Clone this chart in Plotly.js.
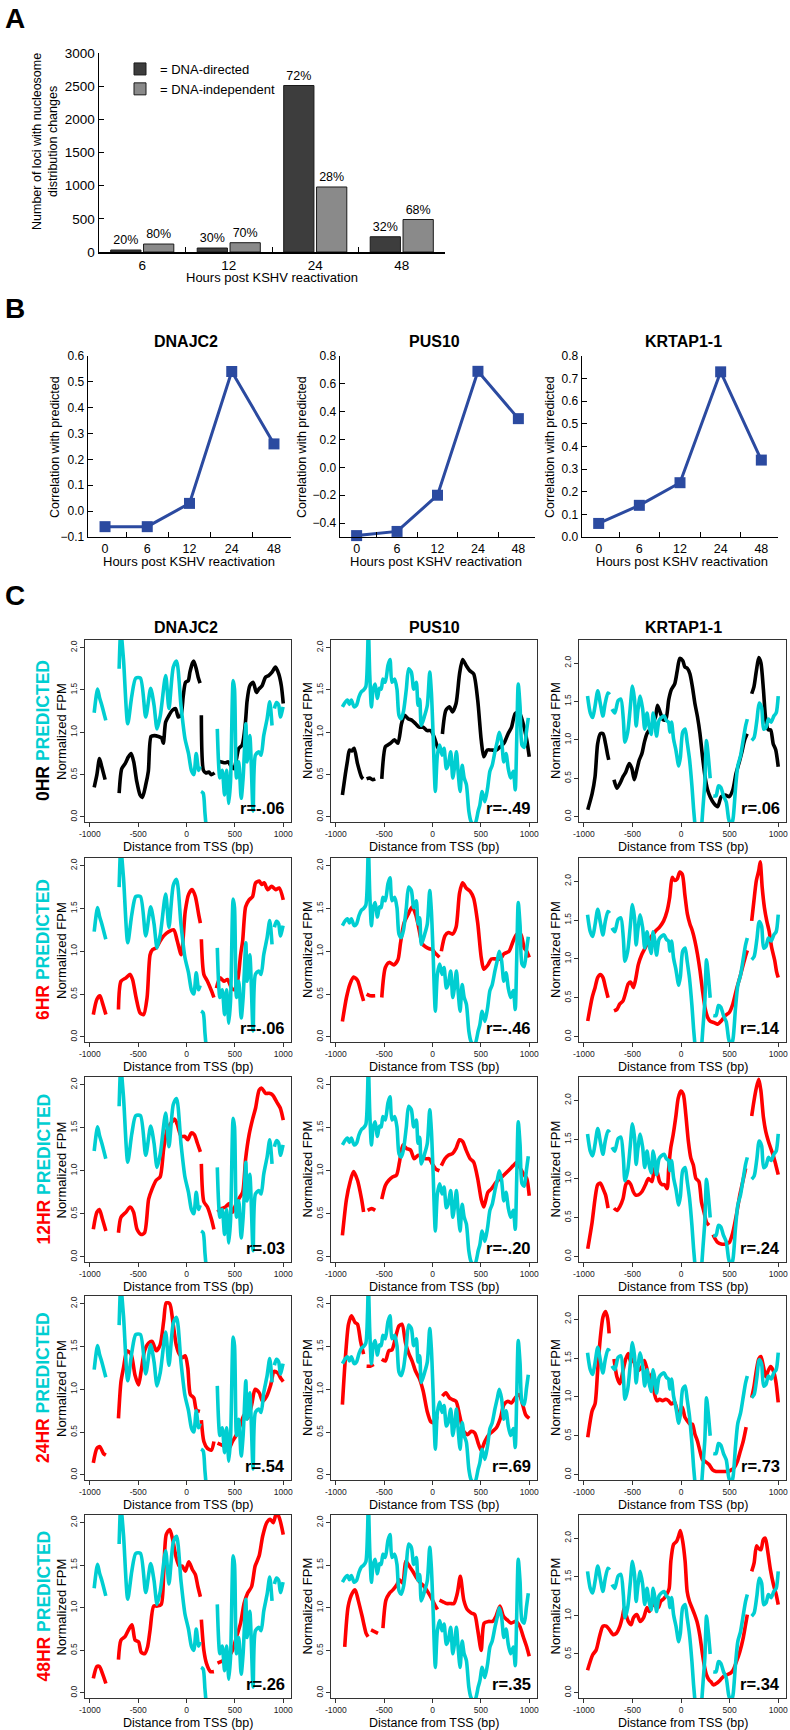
<!DOCTYPE html>
<html><head><meta charset="utf-8">
<script src="https://cdn.plot.ly/plotly-3.0.1.min.js"></script>
<style>body{margin:0;background:#fff}#chart{width:790px;height:1730px}</style>
</head><body><div id="chart"></div>
<script>
// ================= DATA =================
// Panel A
const hoursA = ['6', '12', '24', '48'];
const dnaDirected = [30, 60, 2510, 230];
const dnaIndependent = [120, 140, 980, 490];
const pctDirected = ['20%', '30%', '72%', '32%'];
const pctIndependent = ['80%', '70%', '28%', '68%'];

// Panel B
const hoursB = ['0', '6', '12', '24', '48'];
const genes = ['DNAJC2', 'PUS10', 'KRTAP1-1'];
const corrDNAJC2 = [-0.06, -0.06, 0.03, 0.54, 0.26];
const corrPUS10 = [-0.49, -0.46, -0.20, 0.69, 0.35];
const corrKRTAP = [0.06, 0.14, 0.24, 0.73, 0.34];

// Panel C  (each trace = list of segments of [bp, FPM] points)
const timepoints = ['0HR', '6HR', '12HR', '24HR', '48HR'];
const rLabels = [
  ['r=-.06', 'r=-.49', 'r=.06'],
  ['r=-.06', 'r=-.46', 'r=.14'],
  ['r=.03', 'r=-.20', 'r=.24'],
  ['r=.54', 'r=.69', 'r=.73'],
  ['r=.26', 'r=.35', 'r=.34']
];
const xTickVals = [-1000, -500, 0, 500, 1000];
const xTickText = ['-1000', '-500', '0', '500', '1000'];
const yTickVals = [0, 0.5, 1, 1.5, 2];
const yTickText = ['0.0', '0.5', '1.0', '1.5', '2.0'];

const cyanDNAJC2 = [
  [[-955,1.23],[-920,1.51],[-900,1.41],[-876,1.32],[-835,1.14]],
  [[-697,1.75],[-680,2.2],[-652,1.86],[-608,1.10],[-566,1.43],[-525,1.64],[-477,1.64],[-422,1.18],[-371,1.52],[-336,1.32],[-305,1.04],[-271,1.20],[-216,1.67],[-182,1.28],[-137,1.77],[-103,1.84],[-58,1.32],[-17,0.93],[20,0.75],[50,0.55],[75,0.50],[100,0.75],[125,0.55],[140,0.60]],
  [[150,0.30],[172,0.28],[190,0.05],[205,-0.15]],
  [[318,1.04],[345,0.46],[369,0.55],[393,0.26],[415,0.55],[437,0.16],[455,0.42],[482,1.61],[496,1.51],[516,0.46],[540,0.65],[565,0.22],[585,0.46],[613,1.10],[626,0.65],[654,0.96],[688,0.07],[712,0.73],[747,0.77],[771,0.73],[798,0.96],[833,1.16],[860,1.36],[884,1.08]],
  [[908,1.28],[930,1.35],[953,1.32],[970,1.18],[998,1.30]]
];
const cyanPUS10 = [
  [[-932,1.30],[-900,1.36],[-880,1.38],[-860,1.33],[-840,1.38],[-810,1.30],[-786,1.32],[-760,1.42],[-735,1.48],[-713,1.50],[-690,1.54],[-672,1.90],[-664,2.25],[-650,1.70],[-632,1.30],[-615,1.50],[-593,1.57],[-570,1.40],[-548,1.52],[-531,1.51],[-513,1.63],[-489,1.59],[-461,1.79],[-440,1.86],[-420,1.59],[-392,1.63],[-368,1.51],[-347,1.20],[-323,1.16],[-300,1.25],[-271,1.51],[-247,1.75],[-219,1.71],[-195,1.51],[-168,1.59],[-150,1.32],[-133,1.39],[-116,1.08],[-81,1.20],[-54,1.32],[-29,1.71],[-12,1.47],[5,1.0],[29,0.30],[50,0.73],[74,0.85],[98,0.73],[119,0.81],[143,0.57],[161,0.61],[188,0.77],[209,0.46],[230,0.61],[247,0.77],[264,0.54],[285,0.30],[306,0.61],[327,0.46],[350,0.38],[375,0.07],[396,-0.05],[420,-0.09],[444,-0.07],[472,0.07],[489,0.14],[513,0.30],[541,0.18],[569,0.34],[593,0.54],[617,0.61],[645,0.77],[669,0.89],[690,1.0],[714,0.89],[737,0.65],[760,0.75],[783,0.57],[807,0.46],[835,0.54],[855,0.32],[870,0.90],[886,1.57],[905,1.30],[925,0.85],[948,0.82],[970,1.0],[990,1.17]]
];
const cyanKRTAP = [
  [[-962,1.57],[-934,1.35],[-909,1.29],[-885,1.44],[-857,1.64],[-829,1.46],[-804,1.31],[-780,1.48],[-752,1.61],[-734,1.59]],
  [[-710,1.40],[-682,1.35],[-647,1.51],[-619,1.53],[-594,1.27],[-577,0.97],[-549,1.10],[-524,1.40],[-500,1.70],[-479,1.53],[-462,1.18],[-444,1.38],[-420,1.57],[-395,1.40],[-374,1.14],[-350,1.35],[-332,1.20],[-308,1.07],[-287,1.35],[-269,1.23],[-252,1.05],[-227,1.25],[-203,1.29],[-175,1.31],[-150,1.25],[-129,1.23],[-115,1.10],[-98,1.23],[-77,1.01],[-52,0.86],[-24,0.66],[-7,0.77],[17,1.10],[42,1.14],[63,0.97],[87,0.75],[112,0.40],[129,0.10],[147,-0.16]],
  [[210,-0.16],[227,0.14],[245,0.45],[262,0.99],[280,0.79],[300,0.50]],
  [[332,0.27],[360,0.27],[385,0.40],[409,0.38],[437,0.27],[465,0.19],[490,-0.03],[514,-0.12],[535,-0.03],[560,0.36],[584,0.66],[612,0.79],[636,0.97],[664,1.18],[682,1.27]],
  [[727,0.99],[752,1.03],[780,1.25],[804,1.48],[829,1.42],[850,1.14],[874,1.16],[899,1.27],[927,1.23],[955,1.31],[979,1.35],[1000,1.57]]
];

// Observed: DNAJC2
const obsDNAJC2_0 = [
  [[-955,0.35],[-927,0.50],[-900,0.69],[-876,0.59],[-842,0.44]],
  [[-697,0.28],[-670,0.57],[-635,0.63],[-601,0.71],[-573,0.75],[-546,0.65],[-515,0.42],[-481,0.26],[-457,0.23],[-422,0.38],[-395,0.54],[-367,0.95],[-333,0.96],[-291,0.95],[-257,0.93],[-240,0.87],[-216,1.12],[-181,1.20],[-147,1.26],[-113,1.28],[-86,1.18],[-58,1.20],[-34,1.43],[-10,1.59],[18,1.61],[35,1.71],[62,1.82],[75,1.84],[100,1.75],[120,1.65],[140,1.58]],
  [[153,1.20],[175,0.55],[200,0.52],[230,0.53],[257,0.50],[290,0.52]],
  [[320,0.66],[360,0.65],[400,0.64],[430,0.65],[460,0.60],[490,0.57],[515,0.68],[540,0.81],[575,0.85],[609,1.12],[626,1.37],[654,1.55],[688,1.59],[723,1.47],[747,1.51],[781,1.55],[816,1.65],[850,1.67],[884,1.71],[919,1.77],[953,1.69],[980,1.55],[1000,1.34]]
];
const obsDNAJC2_6 = [
  [[-964,0.26],[-927,0.44],[-896,0.48],[-865,0.38],[-834,0.26]],
  [[-704,0.32],[-678,0.65],[-626,0.69],[-584,0.73],[-558,0.67],[-522,0.46],[-481,0.28],[-444,0.26],[-408,0.46],[-377,0.96],[-351,1.02],[-314,1.04],[-273,1.12],[-236,1.18],[-184,1.23],[-132,1.25],[-96,1.12],[-55,0.96],[-13,1.47],[23,1.67],[60,1.72],[91,1.64],[127,1.42],[143,1.33]],
  [[153,1.14],[179,0.73],[216,0.65],[257,0.54],[283,0.46]],
  [[309,0.57],[346,0.69],[387,0.65],[423,0.67],[465,0.57],[491,0.55],[527,0.65],[559,0.96],[580,1.12],[611,1.52],[647,1.60],[683,1.64],[714,1.80],[751,1.82],[777,1.78],[803,1.80],[839,1.72],[880,1.76],[922,1.72],[958,1.74],[1000,1.60]]
];
const obsDNAJC2_12 = [
  [[-964,0.32],[-927,0.52],[-901,0.55],[-870,0.44],[-834,0.30]],
  [[-704,0.28],[-678,0.46],[-626,0.52],[-584,0.58],[-548,0.52],[-512,0.32],[-470,0.26],[-434,0.28],[-392,0.67],[-356,0.79],[-314,0.89],[-273,0.93],[-236,1.26],[-200,1.48],[-158,1.56],[-122,1.60],[-96,1.54],[-55,1.40],[-18,1.40],[13,1.36],[49,1.44],[80,1.42],[112,1.32],[143,1.22]],
  [[153,1.08],[179,0.64],[216,0.58],[257,0.44],[283,0.32]],
  [[320,0.52],[361,0.56],[403,0.58],[439,0.62],[475,0.52],[506,0.60],[543,0.68],[580,0.75],[611,1.14],[647,1.42],[683,1.60],[714,1.73],[751,1.94],[777,1.96],[818,1.90],[855,1.90],[891,1.88],[932,1.80],[969,1.73],[1000,1.59]]
];
const obsDNAJC2_24 = [
  [[-964,0.14],[-927,0.31],[-896,0.33],[-860,0.25],[-834,0.23]],
  [[-704,0.66],[-678,1.09],[-652,1.25],[-616,1.45],[-574,1.41],[-532,1.16],[-496,1.05],[-470,1.21],[-434,1.45],[-392,1.54],[-356,1.56],[-314,1.45],[-273,1.52],[-236,1.80],[-210,2.01],[-174,2.0],[-143,1.80],[-107,1.52],[-75,1.41],[-44,1.37],[-13,1.39],[13,1.25],[39,0.94],[75,0.90],[101,0.76],[138,0.74]],
  [[153,0.64],[179,0.39],[216,0.31],[257,0.29],[283,0.39]],
  [[320,0.37],[361,0.35],[403,0.33],[439,0.31],[475,0.39],[517,0.47],[559,0.59],[595,0.70],[631,0.66],[673,0.82],[709,1.0],[751,0.96],[787,0.86],[829,0.92],[870,1.05],[906,1.21],[943,1.19],[974,1.13],[1000,1.09]]
];
const obsDNAJC2_48 = [
  [[-964,0.17],[-927,0.31],[-901,0.31],[-870,0.23],[-834,0.11]],
  [[-704,0.39],[-678,0.62],[-636,0.66],[-600,0.74],[-564,0.80],[-532,0.62],[-496,0.60],[-470,0.48],[-434,0.46],[-403,0.54],[-377,0.74],[-340,1.02],[-304,1.02],[-262,1.04],[-236,1.41],[-210,1.86],[-174,1.92],[-143,1.80],[-107,1.59],[-75,1.49],[-44,1.49],[-13,1.43],[23,1.54],[60,1.45],[91,1.39],[117,1.25],[143,1.13]],
  [[153,0.86],[179,0.50],[205,0.35],[247,0.25],[283,0.25]],
  [[320,0.35],[361,0.37],[403,0.39],[439,0.43],[475,0.50],[517,0.66],[559,0.82],[595,1.05],[631,1.17],[673,1.25],[709,1.49],[751,1.61],[787,1.84],[829,2.0],[865,2.04],[896,2.0],[932,2.12],[964,2.04],[1000,1.86]]
];

// Observed: PUS10
const obsPUS10_0 = [
  [[-932,0.26],[-901,0.51],[-880,0.66],[-859,0.79],[-835,0.78],[-811,0.81],[-776,0.63],[-734,0.47],[-718,0.45]],
  [[-682,0.45],[-650,0.46],[-620,0.44],[-593,0.45]],
  [[-525,0.45],[-488,0.83],[-462,0.85],[-436,0.87],[-394,0.91],[-358,0.87],[-321,1.10],[-290,1.20],[-253,1.16],[-211,1.14],[-175,1.10],[-138,1.06],[-97,1.06],[-55,1.02],[-18,1.02],[18,0.94],[50,0.83],[71,0.79]],
  [[102,0.98],[138,1.26],[175,1.30],[206,1.24],[243,1.34],[279,1.69],[311,1.86],[347,1.79],[383,1.73],[425,1.69],[467,1.38],[503,0.91],[530,0.71],[566,0.79],[608,0.79],[660,0.79],[701,0.83],[738,0.87],[780,0.98],[817,1.06],[854,1.22],[895,1.24],[937,1.10],[974,0.91],[1000,0.71]]
];
const obsPUS10_6 = [
  [[-932,0.18],[-890,0.46],[-853,0.62],[-817,0.70],[-776,0.66],[-734,0.50],[-713,0.42]],
  [[-682,0.50],[-645,0.48],[-593,0.48]],
  [[-525,0.46],[-488,0.81],[-447,0.87],[-400,0.84],[-358,0.90],[-332,1.09],[-295,1.33],[-253,1.43],[-211,1.52],[-175,1.43],[-149,1.31],[-107,1.09],[-70,1.05],[-34,1.03],[-3,1.02],[34,0.97],[71,0.93]],
  [[91,1.0],[128,1.18],[164,1.22],[206,1.20],[243,1.28],[279,1.68],[311,1.80],[347,1.74],[389,1.70],[425,1.62],[467,1.33],[503,0.93],[530,0.79],[572,0.84],[608,0.91],[660,0.91],[701,0.91],[738,0.97],[791,1.0],[834,1.12],[870,1.20],[912,1.20],[948,1.04],[974,1.0],[1000,0.93]]
];
const obsPUS10_12 = [
  [[-932,0.25],[-890,0.67],[-853,0.87],[-817,0.99],[-776,0.89],[-734,0.67],[-713,0.52]],
  [[-671,0.54],[-629,0.56],[-593,0.54]],
  [[-525,0.67],[-488,0.83],[-452,0.89],[-410,0.93],[-373,0.95],[-342,1.10],[-306,1.30],[-269,1.26],[-227,1.24],[-190,1.14],[-149,1.18],[-107,1.16],[-70,1.14],[-34,1.14],[-3,1.08],[34,1.02],[71,1.0]],
  [[91,1.06],[128,1.14],[164,1.18],[206,1.20],[243,1.26],[279,1.36],[311,1.34],[347,1.24],[389,1.14],[425,1.10],[467,0.91],[503,0.67],[530,0.58],[572,0.75],[608,0.79],[660,0.87],[701,0.91],[738,0.95],[791,1.01],[834,1.06],[870,1.10],[912,1.02],[948,0.95],[974,0.91],[1000,0.71]]
];
const obsPUS10_24 = [
  [[-932,0.82],[-906,1.29],[-869,1.76],[-838,1.86],[-801,1.78],[-776,1.76],[-744,1.56],[-713,1.41]],
  [[-682,1.27],[-645,1.27],[-608,1.29]],
  [[-525,1.35],[-488,1.33],[-452,1.45],[-420,1.46],[-384,1.60],[-347,1.74],[-316,1.76],[-279,1.54],[-243,1.41],[-211,1.33],[-175,1.21],[-138,1.13],[-97,0.98],[-55,0.74],[-18,0.62],[8,0.61],[39,0.66],[60,0.66]],
  [[102,0.92],[138,0.96],[175,0.90],[206,0.88],[243,0.86],[279,0.70],[321,0.51],[363,0.47],[399,0.51],[436,0.49],[478,0.35],[503,0.29],[540,0.39],[582,0.47],[624,0.51],[660,0.55],[701,0.66],[738,0.82],[780,0.86],[817,0.84],[854,0.90],[895,0.94],[932,0.82],[964,0.70],[1000,0.66]]
];
const obsPUS10_48 = [
  [[-908,0.54],[-872,1.02],[-831,1.17],[-800,1.21],[-769,1.09],[-728,0.90],[-687,0.70],[-667,0.66]],
  [[-636,0.74],[-600,0.72],[-564,0.70]],
  [[-513,0.76],[-482,1.09],[-446,1.17],[-410,1.21],[-369,1.27],[-344,1.33],[-308,1.29],[-277,1.55],[-241,1.49],[-205,1.43],[-164,1.35],[-123,1.29],[-87,1.25],[-51,1.19],[-10,1.11],[21,1.04],[51,0.98]],
  [[72,1.09],[108,1.07],[144,1.05],[185,1.05],[221,1.05],[256,1.17],[287,1.37],[323,1.09],[359,0.98],[400,0.94],[436,0.92],[467,0.74],[503,0.50],[533,0.82],[579,0.84],[621,0.84],[656,0.90],[697,1.02],[733,0.90],[769,0.86],[810,0.82],[862,0.84],[903,0.78],[938,0.66],[974,0.54],[1000,0.43]]
];

// Observed: KRTAP1-1
const obsKRTAP_0 = [
  [[-960,0.09],[-915,0.30],[-885,0.52],[-858,0.95],[-830,1.08],[-803,1.08],[-777,0.95],[-755,0.80],[-744,0.74]],
  [[-690,0.48],[-660,0.37],[-630,0.43],[-597,0.52],[-569,0.58],[-533,0.69],[-507,0.63],[-481,0.48],[-455,0.61],[-429,0.74],[-403,0.82],[-377,0.97],[-351,1.08],[-325,1.13],[-294,1.21],[-262,1.30],[-242,1.45],[-210,1.34],[-184,1.26],[-158,1.26],[-127,1.52],[-101,1.65],[-65,1.73],[-39,1.90],[-13,2.06],[18,2.03],[39,1.95],[65,1.93],[91,1.86],[117,1.69],[143,1.47],[169,1.30],[195,1.08],[221,0.78],[247,0.52],[273,0.35],[299,0.26],[340,0.17],[377,0.13],[413,0.26],[455,0.28],[496,0.26],[533,0.35],[565,0.56],[595,0.69],[622,0.82],[655,1.0],[680,1.08]],
  [[727,1.60],[750,1.69],[775,1.90],[800,2.07],[822,2.0],[848,1.65],[872,1.26],[898,1.13],[922,1.13],[948,0.95],[974,0.87],[1000,0.65]]
];
const obsKRTAP_6 = [
  [[-960,0.20],[-915,0.50],[-885,0.63],[-858,0.76],[-830,0.80],[-803,0.76],[-777,0.63],[-751,0.50]],
  [[-690,0.33],[-660,0.35],[-630,0.42],[-597,0.46],[-569,0.57],[-543,0.68],[-517,0.70],[-491,0.63],[-470,0.72],[-439,0.93],[-403,1.06],[-366,1.15],[-335,1.23],[-299,1.30],[-262,1.36],[-221,1.41],[-179,1.49],[-143,1.62],[-117,1.79],[-91,2.05],[-65,2.01],[-39,2.03],[-13,2.12],[13,2.09],[39,1.83],[65,1.58],[91,1.45],[117,1.36],[143,1.23],[169,1.06],[195,0.85],[221,0.59],[247,0.37],[273,0.25],[299,0.20],[340,0.18],[377,0.16],[413,0.20],[455,0.27],[496,0.31],[533,0.42],[575,0.63],[605,0.76],[632,0.89],[660,1.02],[682,1.11]],
  [[727,1.49],[750,1.75],[775,2.01],[800,2.14],[815,2.25],[835,1.92],[858,1.66],[882,1.49],[906,1.36],[932,1.15],[964,0.98],[984,0.83],[1000,0.76]]
];
const obsKRTAP_12 = [
  [[-960,0.10],[-915,0.44],[-885,0.74],[-858,0.92],[-830,0.94],[-803,0.87],[-777,0.79],[-751,0.62]],
  [[-690,0.62],[-660,0.59],[-630,0.64],[-597,0.74],[-569,0.92],[-543,0.96],[-517,0.92],[-491,0.83],[-470,0.79],[-439,0.79],[-403,0.83],[-366,0.92],[-335,1.0],[-299,0.96],[-273,1.13],[-247,1.09],[-221,0.96],[-195,0.92],[-169,0.92],[-143,0.87],[-127,1.13],[-106,1.39],[-81,1.56],[-55,1.78],[-29,2.03],[-3,2.12],[23,2.08],[49,1.82],[75,1.48],[101,1.26],[127,1.17],[153,1.0],[184,0.96],[210,0.70],[236,0.57],[262,0.44],[288,0.40]],
  [[330,0.28],[340,0.25],[377,0.18],[413,0.16],[455,0.16],[496,0.18],[533,0.31],[575,0.57],[605,0.79],[635,0.96],[665,1.13]],
  [[727,1.80],[750,1.99],[775,2.16],[800,2.27],[822,2.12],[848,1.78],[872,1.60],[898,1.48],[922,1.39],[948,1.30],[974,1.18],[1000,1.05]]
];
const obsKRTAP_24 = [
  [[-960,0.48],[-915,0.82],[-885,0.91],[-858,1.34],[-830,1.77],[-803,2.03],[-777,2.10],[-755,2.01],[-740,1.82]],
  [[-690,1.49],[-660,1.26],[-630,1.17],[-597,1.34],[-569,1.49],[-543,1.56],[-517,1.45],[-491,1.49],[-470,1.39],[-439,1.34],[-403,1.39],[-377,1.47],[-351,1.36],[-325,1.21],[-299,1.30],[-273,1.04],[-247,0.95],[-221,0.97],[-190,0.95],[-158,0.97],[-127,0.95],[-101,0.91],[-65,0.93],[-39,0.82],[-13,0.78],[13,0.87],[39,0.74],[65,0.69],[91,0.65],[117,0.65],[143,0.52],[169,0.43],[195,0.30],[221,0.19],[247,0.17],[288,0.13],[325,0.06],[361,0.04],[403,0.04],[444,0.04],[481,0.04],[517,0.06],[548,0.09],[580,0.17],[610,0.30],[640,0.43],[670,0.61]],
  [[727,0.99],[750,1.13],[775,1.34],[800,1.49],[822,1.52],[848,1.39],[872,1.26],[898,1.34],[922,1.39],[948,1.34],[974,1.21],[1000,0.93]]
];
const obsKRTAP_48 = [
  [[-962,0.29],[-909,0.49],[-874,0.55],[-840,0.72],[-804,0.86],[-769,0.86],[-734,0.81],[-699,0.75],[-664,0.77],[-629,0.86],[-605,0.97],[-584,1.10],[-566,1.01],[-542,0.92],[-514,0.88],[-490,0.97],[-455,1.01],[-420,0.92],[-385,0.97],[-350,1.10],[-325,1.05],[-297,1.14],[-265,1.12],[-234,1.10],[-210,1.18],[-175,1.22],[-140,1.29],[-122,1.35],[-105,1.70],[-77,1.92],[-45,1.96],[-24,2.03],[-7,2.10],[17,1.96],[42,1.70],[63,1.31],[87,1.18],[112,1.10],[140,1.01],[164,0.92],[192,0.75],[217,0.53],[238,0.36],[262,0.23],[290,0.16],[308,0.14],[332,0.10],[367,0.12],[402,0.16],[437,0.21],[472,0.23],[507,0.25],[535,0.29],[570,0.40],[605,0.53],[640,0.71],[664,0.88],[682,1.01]],
  [[727,1.57],[752,1.68],[776,1.90],[797,1.87],[822,1.85],[846,1.98],[867,2.0],[892,1.83],[920,1.59],[951,1.40],[979,1.27],[1000,1.14]]
];

// ================= BUILD =================
const W = 790, H = 1730;
const px = v => v / W, py = v => 1 - v / H;
const F = 'Liberation Sans, Arial, sans-serif';
const CYAN = '#00CED1', RED = '#ff0000', BLUE = '#2B4AA0';

function flatten(segs) {
  const x = [], y = [];
  segs.forEach((s, i) => {
    if (i > 0) { x.push(null); y.push(null); }
    s.forEach(p => { x.push(p[0]); y.push(p[1]); });
  });
  return {x, y};
}

const traces = [];
const layout = {
  width: W, height: H, margin: {l: 0, r: 0, t: 0, b: 0},
  paper_bgcolor: '#fff', plot_bgcolor: '#fff', hovermode: false,
  font: {family: F, color: '#000'},
  barmode: 'group', bargap: 0.24, bargroupgap: 0.08,
  showlegend: true,
  legend: {x: px(120), y: py(54), xanchor: 'left', yanchor: 'top', font: {size: 13, family: F},
           bgcolor: 'rgba(0,0,0,0)', itemwidth: 30, tracegroupgap: 0},
  annotations: [], shapes: []
};
const ann = (o) => layout.annotations.push(Object.assign({xref: 'paper', yref: 'paper', showarrow: false, xanchor: 'center', yanchor: 'middle'}, o));

// ---------- Panel A ----------
traces.push({type: 'bar', x: hoursA, y: dnaDirected, name: '= DNA-directed', xaxis: 'x', yaxis: 'y',
  marker: {color: '#3d3d3d', line: {color: '#1a1a1a', width: 1}},
  text: pctDirected, textposition: 'outside', cliponaxis: false, textfont: {size: 12.5, color: '#000', family: F}});
traces.push({type: 'bar', x: hoursA, y: dnaIndependent, name: '= DNA-independent', xaxis: 'x', yaxis: 'y',
  marker: {color: '#8a8a8a', line: {color: '#1a1a1a', width: 1}},
  text: pctIndependent, textposition: 'outside', cliponaxis: false, textfont: {size: 12.5, color: '#000', family: F}});
layout.xaxis = {domain: [px(99), px(445)], anchor: 'y', type: 'category', tickson: 'boundaries',
  ticks: 'inside', ticklen: 5, tickcolor: '#000', showline: true, linecolor: '#000', linewidth: 1.5,
  tickfont: {size: 13.5, family: F}, showgrid: false, zeroline: false};
layout.yaxis = {domain: [py(252), py(53)], anchor: 'x', range: [0, 3000], dtick: 500, tick0: 0,
  ticks: 'inside', ticklen: 5, tickcolor: '#000', showline: true, linecolor: '#000', linewidth: 1.5,
  tickfont: {size: 13.5, family: F}, showgrid: false, zeroline: false};
ann({text: '<b>A</b>', x: px(15), y: py(19), font: {size: 28, family: F}});
ann({text: 'Number of loci with nucleosome<br>distribution changes', x: px(45), y: py(142), textangle: -90, font: {size: 12.5, family: F}});
ann({text: 'Hours post KSHV reactivation', x: px(272), y: py(277), font: {size: 13, family: F}});

// ---------- Panel B ----------
const corrs = [corrDNAJC2, corrPUS10, corrKRTAP];
const bL = [88, 340, 582], bR = [291, 535, 778], bT = 356, bB = 537;
const bRanges = [[-0.1, 0.6], [-0.5, 0.8], [0, 0.8]];
const bDtick = [0.1, 0.2, 0.1];
const bTick0 = [-0.1, -0.4, 0];
const bTitleX = [186, 434, 683], bYTitleX = [55, 302, 550], bXTitleX = [189, 436, 682];
for (let i = 0; i < 3; i++) {
  const k = 2 + i;
  traces.push({type: 'scatter', mode: 'lines+markers', x: hoursB, y: corrs[i], xaxis: 'x' + k, yaxis: 'y' + k,
    showlegend: false, line: {color: BLUE, width: 3}, marker: {symbol: 'square', size: 11, color: BLUE}, cliponaxis: false});
  layout['xaxis' + k] = {domain: [px(bL[i]), px(bR[i])], anchor: 'y' + k, type: 'category', tickson: 'boundaries',
    ticks: 'inside', ticklen: 5, tickcolor: '#000', showline: true, linecolor: '#000', linewidth: 1.3,
    tickfont: {size: 12.5, family: F}, showgrid: false, zeroline: false};
  layout['yaxis' + k] = {domain: [py(bB), py(bT)], anchor: 'x' + k, range: bRanges[i], dtick: bDtick[i], tick0: bTick0[i],
    tickformat: '.1f', ticks: 'inside', ticklen: 5, tickcolor: '#000', showline: true, linecolor: '#000', linewidth: 1.3,
    tickfont: {size: 12, family: F}, showgrid: false, zeroline: false};
  ann({text: '<b>' + genes[i] + '</b>', x: px(bTitleX[i]), y: py(341), font: {size: 16, family: F}});
  ann({text: 'Correlation with predicted', x: px(bYTitleX[i]), y: py(447), textangle: -90, font: {size: 12.5, family: F}});
  ann({text: 'Hours post KSHV reactivation', x: px(bXTitleX[i]), y: py(561), font: {size: 13, family: F}});
}
ann({text: '<b>B</b>', x: px(15), y: py(308), font: {size: 28, family: F}});

// ---------- Panel C ----------
const cyanByGene = [cyanDNAJC2, cyanPUS10, cyanKRTAP];
const observed = [
  [obsDNAJC2_0, obsPUS10_0, obsKRTAP_0],
  [obsDNAJC2_6, obsPUS10_6, obsKRTAP_6],
  [obsDNAJC2_12, obsPUS10_12, obsKRTAP_12],
  [obsDNAJC2_24, obsPUS10_24, obsKRTAP_24],
  [obsDNAJC2_48, obsPUS10_48, obsKRTAP_48]
];
const colL = [85, 331, 579], colR = [291, 537, 786];
const rowT = [640, 858, 1077, 1296, 1515], rowB = [822, 1042, 1262, 1480, 1698];
const cTitleX = [186, 434, 683];
ann({text: '<b>C</b>', x: px(15), y: py(596), font: {size: 28, family: F}});
for (let c = 0; c < 3; c++) ann({text: '<b>' + genes[c] + '</b>', x: px(cTitleX[c]), y: py(627), font: {size: 16, family: F}});

for (let r = 0; r < 5; r++) {
  const obsColor = r === 0 ? '#000000' : RED;
  ann({text: '<b><span style="color:' + obsColor + '">' + timepoints[r] + '</span> <span style="color:' + CYAN + '">PREDICTED</span></b>',
    x: px(43), y: py((rowT[r] + rowB[r]) / 2), textangle: -90, font: {size: 17.5, family: F}});
  for (let c = 0; c < 3; c++) {
    const k = 5 + r * 3 + c;
    const o = flatten(observed[r][c]);
    const p = flatten(cyanByGene[c]);
    traces.push({type: 'scatter', mode: 'lines', x: o.x, y: o.y, xaxis: 'x' + k, yaxis: 'y' + k, showlegend: false,
      connectgaps: false, line: {color: obsColor, width: 3.6, shape: 'spline', smoothing: 0.7}});
    traces.push({type: 'scatter', mode: 'lines', x: p.x, y: p.y, xaxis: 'x' + k, yaxis: 'y' + k, showlegend: false,
      connectgaps: false, line: {color: CYAN, width: 3.6, shape: 'spline', smoothing: 0.7}});
    layout['xaxis' + k] = {domain: [px(colL[c]), px(colR[c])], anchor: 'y' + k, range: [-1050, 1080],
      tickvals: xTickVals, ticktext: xTickText, ticks: 'outside', ticklen: 4, tickwidth: 1, tickcolor: '#333',
      tickfont: {size: 8.5, family: F, color: '#222'}, showline: true, mirror: true, linecolor: '#333', linewidth: 1,
      showgrid: false, zeroline: false};
    layout['yaxis' + k] = {domain: [py(rowB[r]), py(rowT[r])], anchor: 'x' + k, range: c < 2 ? [-0.06, 2.09] : [-0.07, 2.3],
      tickvals: yTickVals, ticktext: yTickText, tickangle: -90, ticks: 'outside', ticklen: 4, tickwidth: 1, tickcolor: '#333',
      tickfont: {size: 8.5, family: F, color: '#222'}, showline: true, mirror: true, linecolor: '#333', linewidth: 1,
      showgrid: false, zeroline: false};
    ann({text: 'Normalized FPM', x: px(colL[c] - 24), y: py((rowT[r] + rowB[r]) / 2), textangle: -90, font: {size: 13, family: F}});
    ann({text: 'Distance from TSS (bp)', x: px((colL[c] + colR[c]) / 2), y: py(rowB[r] + 25), font: {size: 12.5, family: F}});
    ann({text: '<b>' + rLabels[r][c] + '</b>', x: px(colR[c] - 4), y: py(rowB[r] - 14), xanchor: 'right', font: {size: 16.5, family: F}});
  }
}

Plotly.newPlot('chart', traces, layout, {staticPlot: true, displayModeBar: false});
</script>
</body></html>
